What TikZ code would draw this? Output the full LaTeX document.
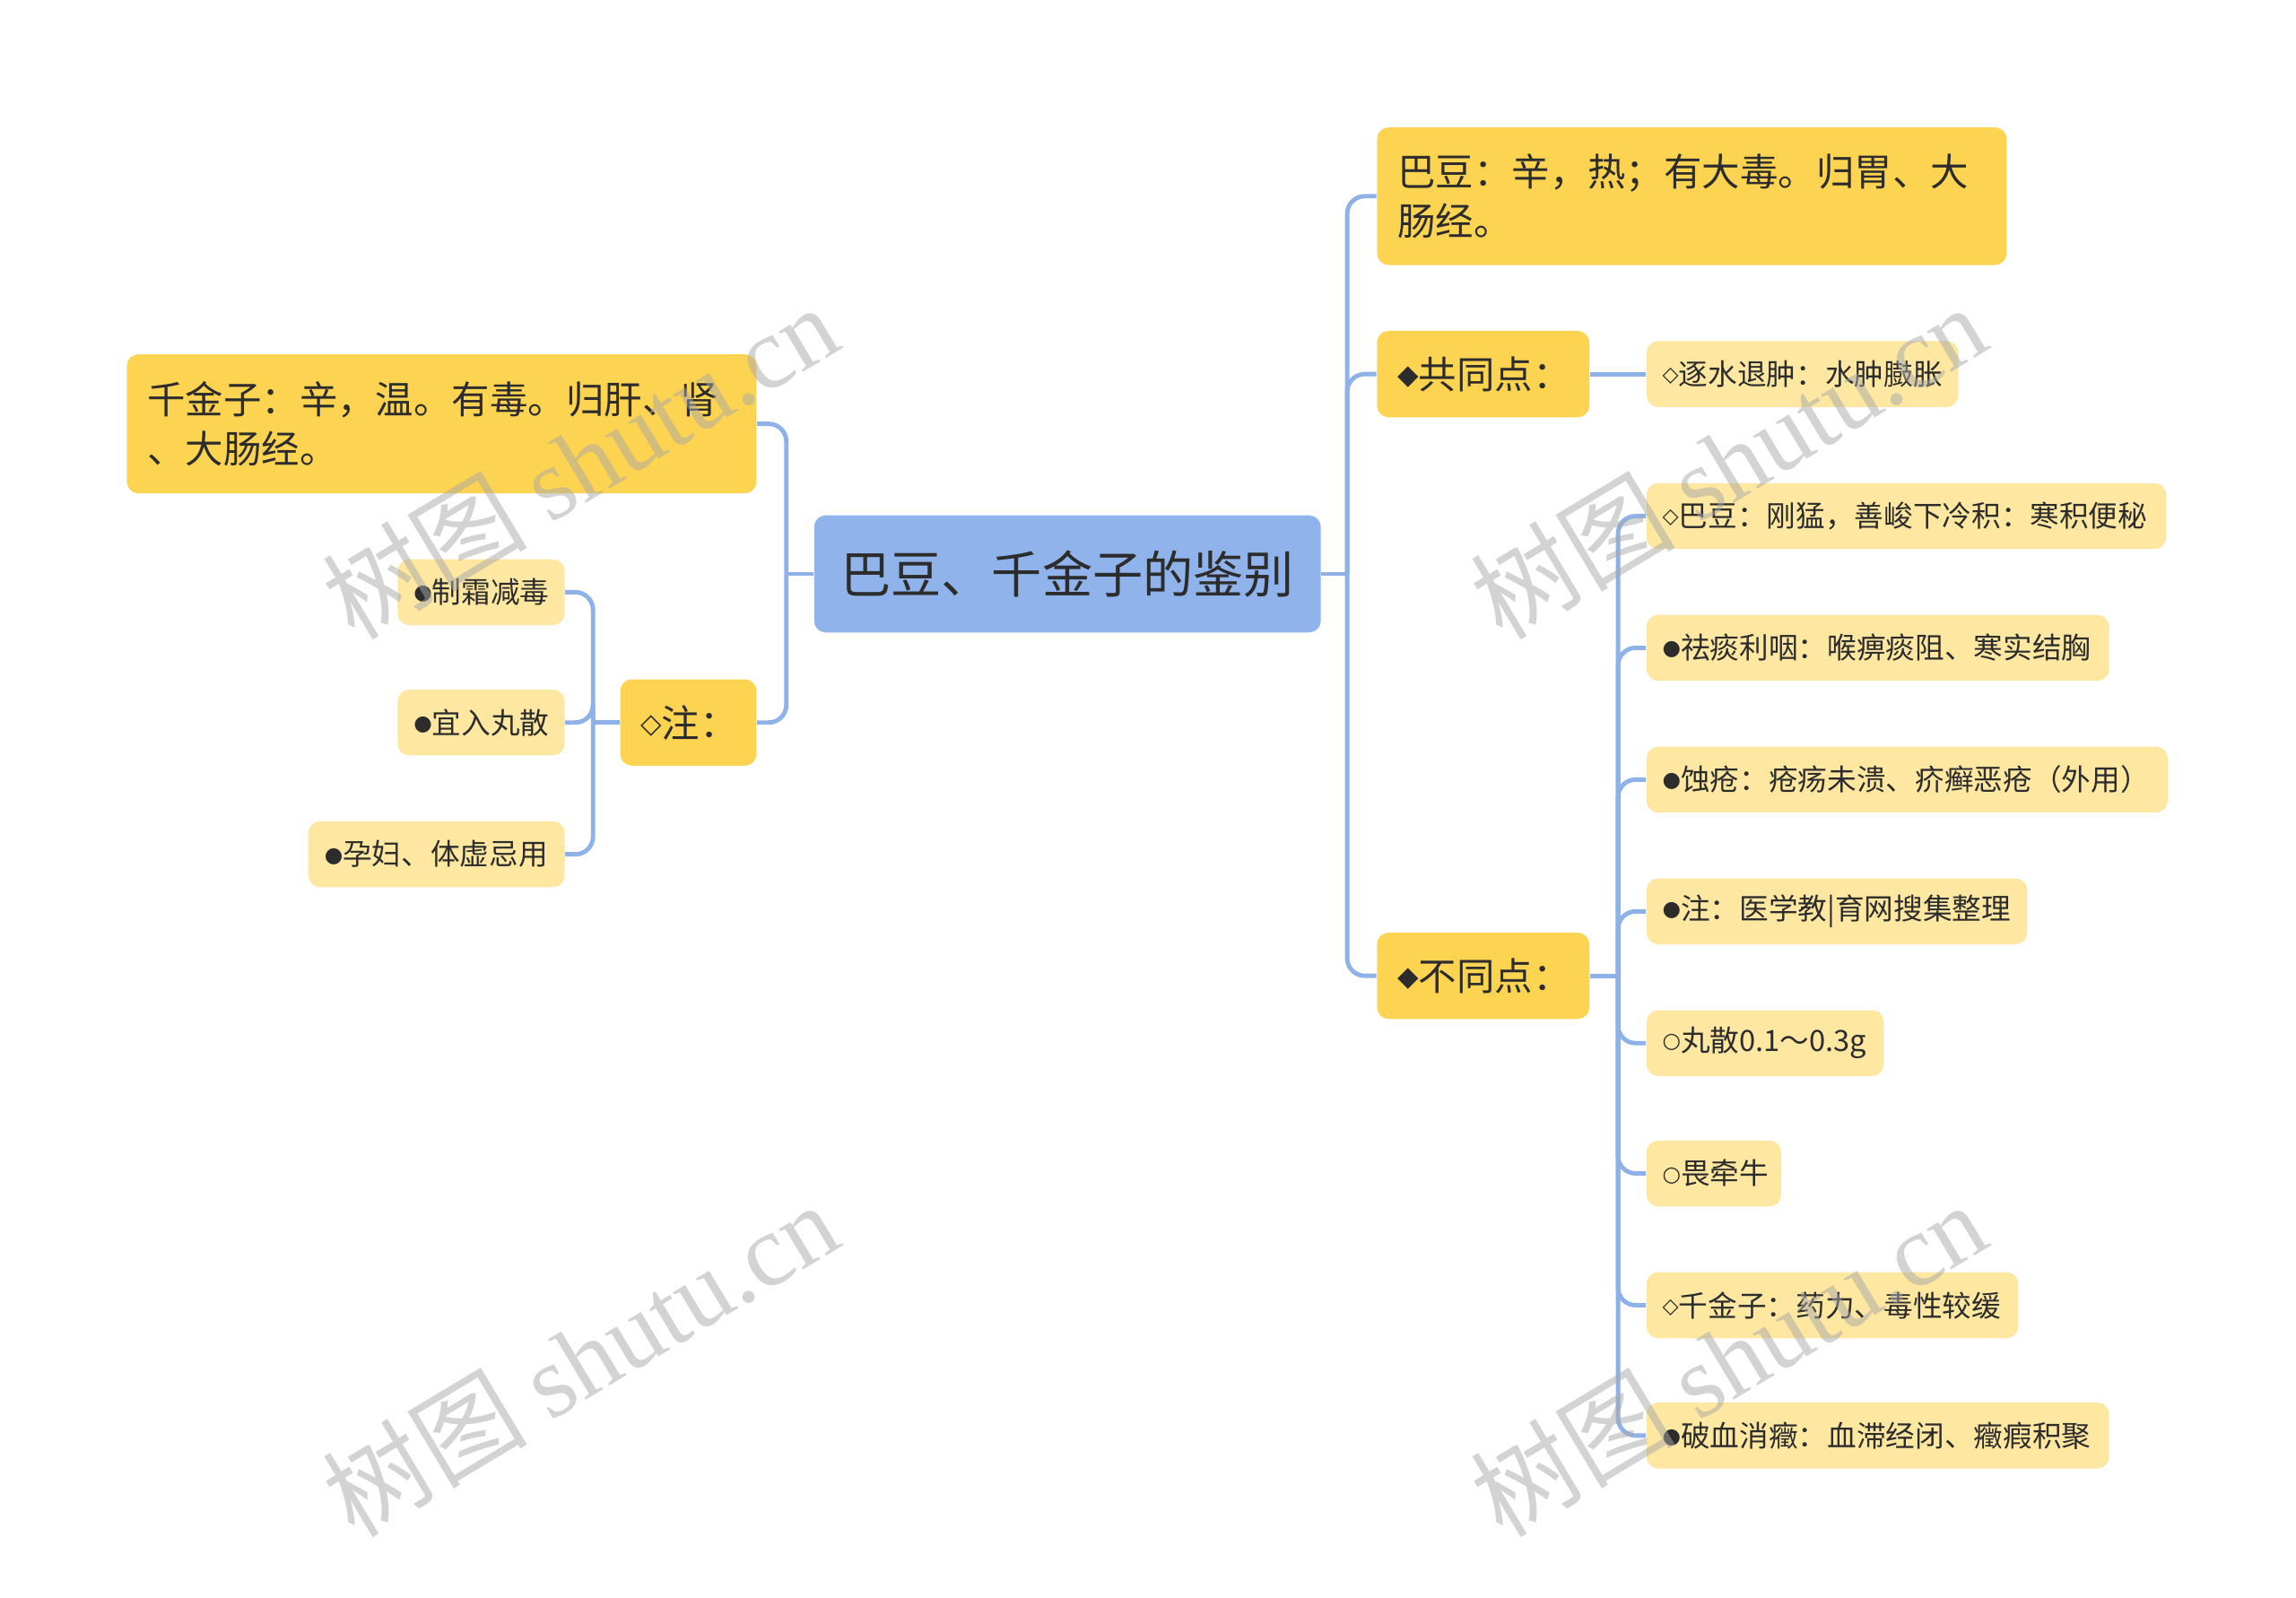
\documentclass[tikz,border=0pt]{standalone}
\usepackage{fontspec}
\setmainfont{Noto Sans CJK SC}
\newfontfamily\symfont{DejaVu Sans}
\newfontfamily\wmlatin{Liberation Serif}
\usetikzlibrary{positioning}
\definecolor{rootblue}{HTML}{8FB3EA}
\definecolor{linkblue}{HTML}{8EB1E8}
\definecolor{topyel}{HTML}{FDD352}
\definecolor{subyel}{HTML}{FEE7A1}
\definecolor{ink}{HTML}{2C2C2C}
\definecolor{wmgray}{HTML}{A8A8A8}
\newcommand\symb[1]{\raisebox{.12em}{\symfont\scalebox{.72}{#1}}}

\begin{document}
\begin{tikzpicture}[x=.5pt,y=-.5pt,
 link/.style={draw=linkblue,line width=1.5pt,rounded corners=6pt},
 rootbox/.style={fill=rootblue,rounded corners=4pt,text=ink,align=center,
  font=\fontsize{17.2}{20}\selectfont,inner xsep=9pt,minimum height=40pt,text width=155pt},
 topbox/.style={fill=topyel,rounded corners=4pt,text=ink,align=left,
  font=\fontsize{13}{17}\selectfont,inner xsep=7pt,text width=#1},
 leafbox/.style={fill=subyel,rounded corners=4pt,text=ink,align=left,
  font=\fontsize{10}{12}\selectfont,inner xsep=5.5pt,minimum height=22.5pt,text width=#1},
 wmark/.style={text=wmgray,opacity=.5,rotate=31,font=\fontsize{35}{35}\selectfont}]
 \useasboundingbox (0,0) rectangle (1568,1091);

 % centre
 \node[rootbox] (root) at (729,392) {巴豆、千金子的鉴别};

 % right side
 \node[topbox=201pt,minimum height=47pt,anchor=west] (bd) at (940,134) {巴豆：辛，热；有大毒。归胃、大\\肠经。};
 \node[topbox=58.5pt,minimum height=29.5pt,anchor=west] (gt) at (940,255.5) {\symb{◆}共同点：};
 \node[topbox=58.5pt,minimum height=29.5pt,anchor=west] (bt) at (940,666.5) {\symb{◆}不同点：};
 \node[leafbox=95.5pt,anchor=west] (zs) at (1124,255.5) {\symb{◇}逐水退肿：水肿臌胀};

 \node[leafbox=166.5pt,anchor=west] (d1) at (1124,352.5) {\symb{◇}巴豆：刚猛，善峻下冷积：寒积便秘};
 \node[leafbox=147pt,anchor=west] (d2) at (1124,442.5) {\symb{●}祛痰利咽：喉痹痰阻、寒实结胸};
 \node[leafbox=167pt,anchor=west] (d3) at (1124,532.5) {\symb{●}蚀疮：疮疡未溃、疥癣恶疮（外用）};
 \node[leafbox=119pt,anchor=west] (d4) at (1124,622.5) {\symb{●}注：医学教|育网搜集整理};
 \node[leafbox=70pt,anchor=west] (d5) at (1124,712.5) {\symb{○}丸散0.1～0.3g};
 \node[leafbox=35pt,anchor=west] (d6) at (1124,801.5) {\symb{○}畏牵牛};
 \node[leafbox=116pt,anchor=west] (d7) at (1124,891.5) {\symb{◇}千金子：药力、毒性较缓};
 \node[leafbox=147pt,anchor=west] (d8) at (1124,980.5) {\symb{●}破血消癥：血滞经闭、癥瘕积聚};

 % left side
 \node[topbox=201pt,minimum height=47.5pt,anchor=east] (qjz) at (517,289.5) {千金子：辛，温。有毒。归肝、肾\\、大肠经。};
 \node[topbox=32.5pt,minimum height=29.5pt,anchor=east] (zhu) at (517,493.5) {\symb{◇}注：};
 \node[leafbox=46pt,anchor=east] (z1) at (386,404.5) {\symb{●}制霜减毒};
 \node[leafbox=46pt,anchor=east] (z2) at (386,493.5) {\symb{●}宜入丸散};
 \node[leafbox=76.5pt,anchor=east] (z3) at (386,583.5) {\symb{●}孕妇、体虚忌用};

 % connectors
 \coordinate (rj) at (920,392);
 \coordinate (bj) at (1105,666.5);
 \coordinate (lj) at (537,392);
 \coordinate (zj) at (405,493.5);
 \draw[link] (root.east) -- (rj);
 \foreach \n in {bd,gt,bt} \draw[link] (rj) |- (\n.west);
 \draw[link] (gt.east) -- (zs.west);
 \draw[link] (bt.east) -- (bj);
 \foreach \n in {d1,d2,d3,d4,d5,d6,d7,d8} \draw[link] (bj) |- (\n.west);
 \draw[link] (root.west) -- (lj);
 \foreach \n in {qjz,zhu} \draw[link] (lj) |- (\n.east);
 \draw[link] (zhu.west) -- (zj);
 \foreach \n in {z1,z2,z3} \draw[link] (zj) |- (\n.east);

 % watermarks
 \node[wmark] (wm1) at (396,315) {树图 {\wmlatin shutu.cn}};
 \node[wmark] (wm2) at (396,928) {树图 {\wmlatin shutu.cn}};
 \node[wmark] (wm3) at (1180,315) {树图 {\wmlatin shutu.cn}};
 \node[wmark] (wm4) at (1180,928) {树图 {\wmlatin shutu.cn}};
\end{tikzpicture}
\end{document}
